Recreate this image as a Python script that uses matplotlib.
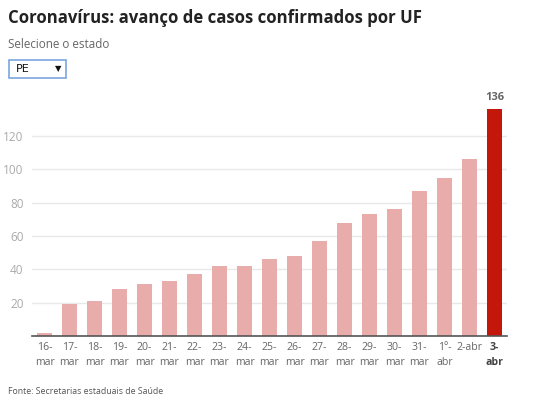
import matplotlib.pyplot as plt
from matplotlib.patches import FancyBboxPatch

datas = ["16-\nmar", "17-\nmar", "18-\nmar", "19-\nmar", "20-\nmar", "21-\nmar",
         "22-\nmar", "23-\nmar", "24-\nmar", "25-\nmar", "26-\nmar", "27-\nmar",
         "28-\nmar", "29-\nmar", "30-\nmar", "31-\nmar", "1º-\nabr", "2-abr", "3-\nabr"]
casos = [2, 19, 21, 28, 31, 33, 37, 42, 42, 46, 48, 57, 68, 73, 76, 87, 95, 106, 136]
yticks = [20, 40, 60, 80, 100, 120]

plt.rcParams['font.family'] = ['Open Sans', 'DejaVu Sans']

fig = plt.figure(figsize=(5.42, 4.18), dpi=100)
ax = fig.add_axes([32 / 542, 1 - 336 / 418, 475 / 542, 0.558])

cores = ['#e8adaa'] * (len(casos) - 1) + ['#c4170c']
x = list(range(len(casos)))
ax.bar(x, casos, width=0.61, color=cores, zorder=2)

ax.set_xlim(-0.5, len(casos) - 0.5)
ax.set_ylim(0, 140)
ax.set_yticks(yticks)
ax.grid(axis='y', color='#e8e8e8', linewidth=1, zorder=0)
for s in ['top', 'right', 'left']:
    ax.spines[s].set_visible(False)
ax.spines['bottom'].set_color('#555555')
ax.spines['bottom'].set_linewidth(1.2)
ax.tick_params(axis='y', length=0, labelsize=8.5, labelcolor='#aaaaaa', pad=6)
ax.tick_params(axis='x', length=0, labelsize=7.6, labelcolor='#666666', pad=4)
ax.set_xticks(x)
ax.set_xticklabels(datas, linespacing=1.5, va='top')
ax.get_xticklabels()[-1].set_fontweight('bold')
ax.get_xticklabels()[-1].set_color('#444444')

ax.text(x[-1], casos[-1] + 4, str(casos[-1]), ha='center', va='bottom',
        fontsize=8, fontweight='bold', color='#666666')

fig.text(8 / 542, 1 - 18 / 418, "Coronavírus: avanço de casos confirmados por UF",
         fontsize=12.1, fontweight='bold', color='#222222', va='center', ha='left')
fig.text(8 / 542, 1 - 44 / 418, "Selecione o estado", fontsize=8.4,
         color='#666666', va='center', ha='left')

box = FancyBboxPatch((9 / 542, 1 - 78 / 418), 57 / 542, 18 / 418,
                     boxstyle='square,pad=0', transform=fig.transFigure,
                     facecolor='white', edgecolor='#7aa7e0', linewidth=1.2)
fig.patches.append(box)
fig.text(16 / 542, 1 - 69 / 418, "PE", fontsize=8, color='#111111',
         va='center', ha='left', family=['DejaVu Sans'])
fig.text(58 / 542, 1 - 69 / 418, "▼", fontsize=6, color='#111111',
         va='center', ha='center', family=['DejaVu Sans'])

fig.text(8 / 542, 1 - 392 / 418, "Fonte: Secretarias estaduais de Saúde",
         fontsize=6.3, color='#555555', va='center', ha='left')

fig.savefig('out.png', dpi=100)
